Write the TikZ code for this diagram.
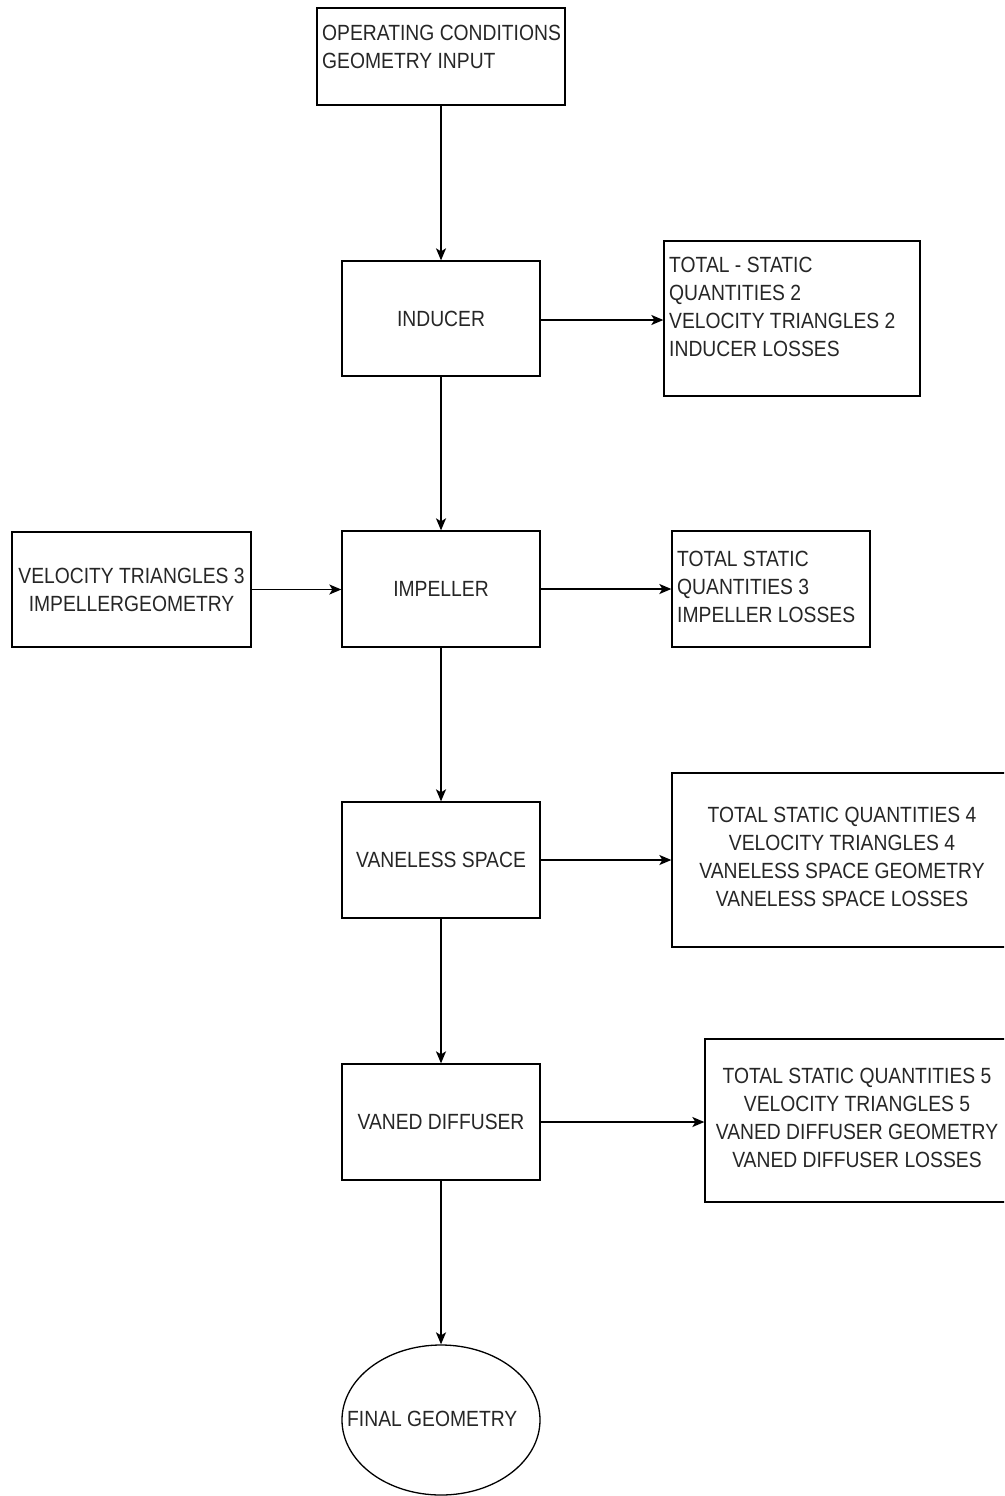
\documentclass[tikz,border=0pt]{standalone}
\usepackage{fontspec}
\setmainfont{Liberation Sans}[FakeStretch=0.877]
\usetikzlibrary{arrows.meta,shapes.geometric}
\begin{document}
\begin{tikzpicture}[x=1pt,y=-1pt,
  box/.style={draw=black, line width=1.3pt, rectangle, inner sep=0pt, align=center, font=\fontsize{22}{28}\selectfont, text=black!85},
  oval/.style={draw=black, line width=1.3pt, ellipse, inner sep=0pt},
  lbl/.style={font=\fontsize{22}{28}\selectfont, text=black!85, inner sep=0pt},
  conn/.style={line width=1.6pt, -{Stealth[length=12pt,width=10pt,inset=3pt]}}
]
\useasboundingbox (0,0) rectangle (1004,1496);
\fill[white] (0,0) rectangle (1004,1496);
\clip (0,0) rectangle (1004,1496);

% main column
\node[box, minimum width=248pt, minimum height=97pt] (op) at (441,56.5) {};
\node[lbl, anchor=west, align=left] (optext) at (322,46.5) {OPERATING CONDITIONS\\GEOMETRY INPUT};

\node[box, minimum width=198pt, minimum height=115pt] (ind) at (441,318.5) {INDUCER};
\node[box, minimum width=198pt, minimum height=116pt] (imp) at (441,589) {IMPELLER};
\node[box, minimum width=198pt, minimum height=116pt] (vs) at (441,860) {VANELESS SPACE};
\node[box, minimum width=198pt, minimum height=116pt] (vd) at (441,1122) {VANED DIFFUSER};
\node[oval, minimum width=198pt, minimum height=150pt] (fg) at (441,1420) {};
\node[lbl, anchor=west] (fgtext) at (347,1419) {FINAL GEOMETRY};

% side boxes
\node[box, minimum width=256pt, minimum height=155pt] (indo) at (792,318.5) {};
\node[lbl, anchor=west, align=left] (indotext) at (669,306.75) {TOTAL - STATIC\\QUANTITIES 2\\VELOCITY TRIANGLES 2\\INDUCER LOSSES};

\node[box, minimum width=239pt, minimum height=115pt] (vt3) at (131.5,589.5) {VELOCITY TRIANGLES 3\\IMPELLERGEOMETRY};

\node[box, minimum width=198pt, minimum height=116pt] (impo) at (771,589) {};
\node[lbl, anchor=west, align=left] (impotext) at (677,586.5) {TOTAL STATIC\\QUANTITIES 3\\IMPELLER LOSSES};

\node[box, minimum width=340pt, minimum height=174pt] (vso) at (842,860) {};
\node[lbl, align=center] (vsotext) at (842,856.5) {TOTAL STATIC QUANTITIES 4\\VELOCITY TRIANGLES 4\\VANELESS SPACE GEOMETRY\\VANELESS SPACE LOSSES};

\node[box, minimum width=304pt, minimum height=163pt] (vdo) at (857,1120.5) {};
\node[lbl, align=center] (vdotext) at (857,1117.5) {TOTAL STATIC QUANTITIES 5\\VELOCITY TRIANGLES 5\\VANED DIFFUSER GEOMETRY\\VANED DIFFUSER LOSSES};

% connectors
\draw[conn] (op) -- (ind);
\draw[conn] (ind) -- (imp);
\draw[conn] (imp) -- (vs);
\draw[conn] (vs) -- (vd);
\draw[conn] (vd) -- (fg);
\draw[conn] ([yshift=-1.5pt]ind.east) -- ([yshift=-1.5pt]ind.east -| indo.west);
\draw[conn] (vt3.east) -- (vt3.east -| imp.west);
\draw[conn] (imp.east) -- (imp.east -| impo.west);
\draw[conn] (vs.east) -- (vs.east -| vso.west);
\draw[conn] (vd.east) -- (vd.east -| vdo.west);
\end{tikzpicture}
\end{document}
